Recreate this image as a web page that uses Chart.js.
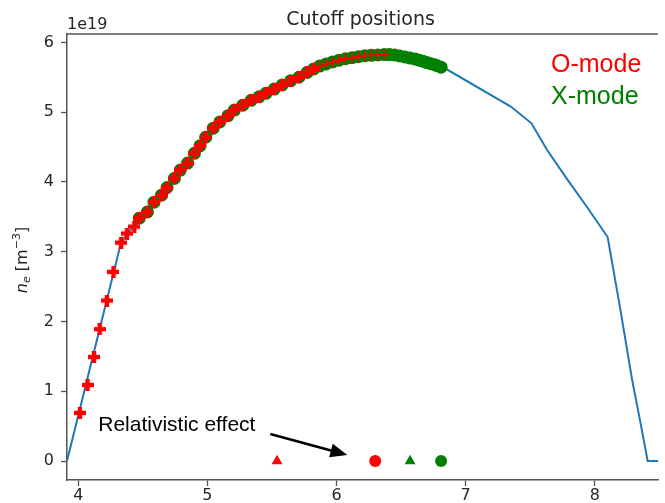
<!DOCTYPE html>
<html lang="en">
<head>
    <meta charset="UTF-8">
    <title>Cutoff positions</title>
    <style>
        html, body { margin: 0; padding: 0; background: #fff; }
        #chartCanvas { display: block; }
    </style>
    <script src="https://cdn.jsdelivr.net/npm/chart.js"></script>
</head>
<body>
    <canvas id="chartCanvas" width="665" height="503"></canvas>

    <script>
        // density profile (x = R, y = ne in 1e19 m^-3)
        const profX = [3.913, 4.33, 4.38, 4.43, 4.49, 4.54, 4.59, 4.64, 4.70, 4.75, 4.80, 4.85, 4.90, 4.95, 5.01, 5.06, 5.11, 5.16, 5.21, 5.28, 5.35, 5.43, 5.52, 5.59, 5.67, 5.75, 5.82, 5.91, 6.00, 6.15, 6.31, 6.44, 6.56, 6.69, 6.82, 7.35, 7.51, 7.63, 7.79, 7.94, 8.10, 8.195, 8.29, 8.35, 8.39, 8.41, 8.50];
        const profY = [0, 3.12, 3.26, 3.36, 3.48, 3.57, 3.69, 3.81, 3.93, 4.05, 4.17, 4.29, 4.41, 4.52, 4.62, 4.74, 4.86, 4.93, 5.03, 5.09, 5.17, 5.24, 5.34, 5.41, 5.48, 5.55, 5.62, 5.69, 5.74, 5.79, 5.82, 5.82, 5.78, 5.72, 5.65, 5.08, 4.84, 4.46, 4.03, 3.64, 3.21, 2.21, 1.16, 0.59, 0.20, 0.0, 0.0];

        // O-mode cutoffs (filled plus)
        const oModeX = [4.013, 4.072, 4.122, 4.166, 4.222, 4.273, 4.332, 4.378, 4.434, 4.473, 4.536, 4.587, 4.645, 4.688, 4.745, 4.791, 4.847, 4.90, 4.944, 4.987, 5.046, 5.097, 5.16, 5.21, 5.275, 5.339, 5.40, 5.454, 5.518, 5.58, 5.645, 5.709, 5.773, 5.824];
        const oModeY = [0.69, 1.09, 1.49, 1.89, 2.30, 2.71, 3.13, 3.26, 3.36, 3.48, 3.57, 3.71, 3.81, 3.92, 4.05, 4.17, 4.27, 4.41, 4.52, 4.64, 4.77, 4.86, 4.95, 5.03, 5.10, 5.17, 5.22, 5.27, 5.33, 5.39, 5.45, 5.50, 5.57, 5.62];
        // O-mode cutoffs near the top (thin plus)
        const oModeTopX = [5.87, 5.92, 5.97, 6.02, 6.07, 6.12, 6.17, 6.22, 6.27, 6.32, 6.37];
        const oModeTopY = [5.66, 5.69, 5.72, 5.745, 5.765, 5.78, 5.795, 5.81, 5.815, 5.82, 5.825];

        // X-mode cutoffs (circles)
        const xModeX = [4.473, 4.536, 4.587, 4.645, 4.688, 4.745, 4.791, 4.847, 4.90, 4.944, 4.987, 5.046, 5.097, 5.16, 5.21, 5.275, 5.339, 5.40, 5.454, 5.518, 5.58, 5.645, 5.709, 5.773, 5.824, 5.87, 5.92, 5.97, 6.02, 6.07, 6.12, 6.17, 6.22, 6.27, 6.32, 6.37, 6.41, 6.45, 6.49, 6.53, 6.57, 6.61, 6.64, 6.67, 6.70, 6.73, 6.76, 6.78, 6.81];
        const xModeY = [3.48, 3.57, 3.71, 3.81, 3.92, 4.05, 4.17, 4.27, 4.41, 4.52, 4.64, 4.77, 4.86, 4.95, 5.03, 5.10, 5.17, 5.22, 5.27, 5.33, 5.39, 5.45, 5.50, 5.57, 5.62, 5.66, 5.69, 5.72, 5.745, 5.765, 5.78, 5.795, 5.81, 5.815, 5.82, 5.825, 5.825, 5.82, 5.805, 5.79, 5.775, 5.76, 5.745, 5.73, 5.71, 5.695, 5.68, 5.665, 5.645];

        // relativistic cutoff markers on the axis
        const oRelX = [5.54, 6.30];   // triangle, circle
        const xRelX = [6.57, 6.81];   // triangle, circle
        const relY = [0, 0];

        const xTicks = [4, 5, 6, 7, 8];
        const yTicks = [0, 1, 2, 3, 4, 5, 6];

        const toPts = (xs, ys) => xs.map((x, i) => ({ x: x, y: ys[i] }));

        // filled plus marker (matplotlib 'P')
        function plusMarker(color) {
            const c = document.createElement('canvas');
            c.width = 12; c.height = 12;
            const g = c.getContext('2d');
            g.fillStyle = color;
            g.fillRect(3.8, 0, 4.4, 12);
            g.fillRect(0, 3.8, 12, 4.4);
            return c;
        }

        const textColor = '#262626';
        const spineColor = '#555555';

        const decorations = {
            id: 'decorations',
            afterDatasetsDraw(chart) {
                const ctx = chart.ctx;
                const xs = chart.scales.x, ys = chart.scales.y;
                const area = chart.chartArea;
                ctx.save();

                // top spine
                ctx.strokeStyle = spineColor;
                ctx.lineWidth = 1.5;
                ctx.beginPath();
                ctx.moveTo(area.left, area.top);
                ctx.lineTo(area.right, area.top);
                ctx.stroke();

                // title + offset text
                ctx.fillStyle = textColor;
                ctx.textBaseline = 'alphabetic';
                ctx.font = '19px "DejaVu Sans"';
                ctx.textAlign = 'center';
                ctx.fillText('Cutoff positions', (area.left + area.right) / 2 - 2, 25);
                ctx.font = '16px "DejaVu Sans"';
                ctx.textAlign = 'left';
                ctx.fillText('1e19', area.left, 29);

                // y label: n_e [m^-3]
                ctx.save();
                ctx.translate(27, (area.top + area.bottom) / 2 + 3);
                ctx.rotate(-Math.PI / 2);
                const parts = [
                    { t: 'n', f: 'italic 16px "DejaVu Sans"', dy: 0 },
                    { t: 'e', f: 'italic 11px "DejaVu Sans"', dy: 3 },
                    { t: ' [m', f: '16px "DejaVu Sans"', dy: 0 },
                    { t: '\u22123', f: '11px "DejaVu Sans"', dy: -7 },
                    { t: ']', f: '16px "DejaVu Sans"', dy: 0 }
                ];
                let total = 0;
                parts.forEach(p => { ctx.font = p.f; p.w = ctx.measureText(p.t).width; total += p.w; });
                let px = -total / 2;
                parts.forEach(p => {
                    ctx.font = p.f;
                    ctx.fillText(p.t, px, p.dy);
                    px += p.w;
                });
                ctx.restore();

                // mode labels
                ctx.font = '25px "Liberation Sans"';
                ctx.fillStyle = '#ff0000';
                ctx.fillText('O-mode', 551, 72);
                ctx.fillStyle = '#008000';
                ctx.fillText('X-mode', 551, 104);

                // annotation
                ctx.fillStyle = '#000000';
                ctx.font = '21px "Liberation Sans"';
                ctx.fillText('Relativistic effect', xs.getPixelForValue(4.155), ys.getPixelForValue(0.43));

                const x0 = xs.getPixelForValue(5.487), y0 = ys.getPixelForValue(0.387);
                const x1 = xs.getPixelForValue(6.084), y1 = ys.getPixelForValue(0.086);
                const ang = Math.atan2(y1 - y0, x1 - x0);
                const headLen = 17, headW = 7;
                const bx = x1 - headLen * Math.cos(ang), by = y1 - headLen * Math.sin(ang);
                ctx.strokeStyle = '#000000';
                ctx.lineWidth = 2.5;
                ctx.beginPath();
                ctx.moveTo(x0, y0);
                ctx.lineTo(bx, by);
                ctx.stroke();
                ctx.beginPath();
                ctx.moveTo(x1, y1);
                ctx.lineTo(bx + headW * Math.sin(ang), by - headW * Math.cos(ang));
                ctx.lineTo(bx - headW * Math.sin(ang), by + headW * Math.cos(ang));
                ctx.closePath();
                ctx.fill();

                ctx.restore();
            }
        };

        new Chart(document.getElementById('chartCanvas'), {
            type: 'scatter',
            data: {
                datasets: [
                    {
                        label: 'O-mode',
                        data: toPts(oModeX, oModeY),
                        pointStyle: plusMarker('#ff0000'),
                        pointRadius: 6
                    },
                    {
                        label: 'O-mode top',
                        data: toPts(oModeTopX, oModeTopY),
                        pointStyle: 'cross',
                        pointRadius: 5.5,
                        borderColor: '#ff0000',
                        borderWidth: 1.5
                    },
                    {
                        label: 'O-mode relativistic',
                        data: toPts(oRelX, relY),
                        pointStyle: ['triangle', 'circle'],
                        pointRadius: [6.3, 6],
                        backgroundColor: '#ff0000',
                        borderColor: '#ff0000',
                        borderWidth: 0
                    },
                    {
                        label: 'X-mode relativistic',
                        data: toPts(xRelX, relY),
                        pointStyle: ['triangle', 'circle'],
                        pointRadius: [6.3, 6],
                        backgroundColor: '#008000',
                        borderColor: '#008000',
                        borderWidth: 0
                    },
                    {
                        label: 'X-mode',
                        data: toPts(xModeX, xModeY),
                        pointStyle: 'circle',
                        pointRadius: 6.5,
                        backgroundColor: '#008000',
                        borderColor: '#008000',
                        borderWidth: 0
                    },
                    {
                        label: 'profile',
                        data: toPts(profX, profY),
                        showLine: true,
                        borderColor: '#1f77b4',
                        borderWidth: 2,
                        pointRadius: 0,
                        tension: 0
                    }
                ]
            },
            plugins: [decorations],
            options: {
                responsive: false,
                devicePixelRatio: 1,
                animation: false,
                layout: { padding: { top: 34, left: 0, right: 0, bottom: 0 } },
                plugins: {
                    legend: { display: false },
                    tooltip: { enabled: false },
                    title: { display: false }
                },
                scales: {
                    x: {
                        type: 'linear',
                        min: 3.913,
                        max: 8.49,
                        afterBuildTicks: s => { s.ticks = xTicks.map(v => ({ value: v })); },
                        afterFit: s => { s.height = 23; },
                        ticks: {
                            autoSkip: false,
                            maxRotation: 0,
                            padding: 0,
                            color: textColor,
                            font: { family: 'DejaVu Sans', size: 16 }
                        },
                        grid: { drawOnChartArea: false, tickLength: 6, tickWidth: 1.3, color: spineColor },
                        border: { color: spineColor, width: 1.5 }
                    },
                    y: {
                        type: 'linear',
                        min: -0.272,
                        max: 6.12,
                        afterBuildTicks: s => { s.ticks = yTicks.map(v => ({ value: v })); },
                        afterFit: s => { s.width = 67; },
                        ticks: {
                            padding: 7,
                            color: textColor,
                            font: { family: 'DejaVu Sans', size: 16 }
                        },
                        grid: { drawOnChartArea: false, tickLength: 6, tickWidth: 1.3, color: spineColor },
                        border: { color: spineColor, width: 1.5 }
                    }
                }
            }
        });
    </script>
</body>
</html>
